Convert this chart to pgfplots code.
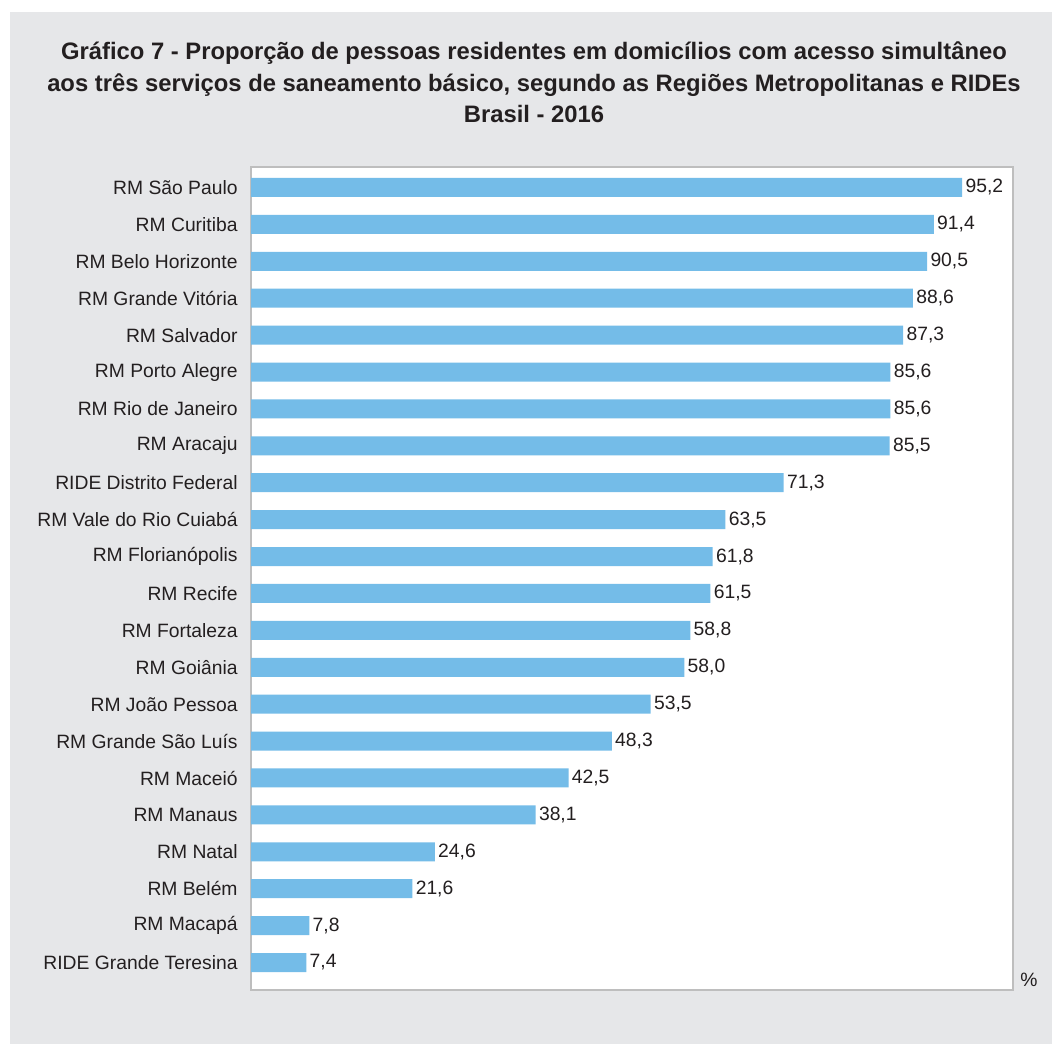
\documentclass[border=0pt]{standalone}
\usepackage{pgfplots}
\pgfplotsset{compat=1.18}
\usepackage{pgfplotstable}
\usepackage{fontspec}
\setmainfont{Liberation Sans}
\definecolor{panel}{HTML}{E6E7E9}
\definecolor{barblue}{HTML}{74BCE8}
\definecolor{frame}{HTML}{BEBEBE}
\definecolor{txt}{HTML}{231F20}
\pgfplotstableread[col sep=comma]{
y,v
0,95.2
1,91.4
2,90.5
3,88.6
4,87.3
5,85.6
6,85.6
7,85.5
8,71.3
9,63.5
10,61.8
11,61.5
12,58.8
13,58.0
14,53.5
15,48.3
16,42.5
17,38.1
18,24.6
19,21.6
20,7.8
21,7.4
}\datatable
\begin{document}
\begin{tikzpicture}
\fill[white] (0,0) rectangle (526.5pt,522.5pt);
\fill[panel] (5pt,0.5pt) rectangle (526pt,516.5pt);
\node[font=\fontsize{11.9}{14}\selectfont\bfseries, text=txt, align=center] at (267pt,495.8pt) {Gráfico 7 - Proporção de pessoas residentes em domicílios com acesso simultâneo};
\node[font=\fontsize{11.9}{14}\selectfont\bfseries, text=txt, align=center] at (267pt,479.8pt) {aos três serviços de saneamento básico, segundo as Regiões Metropolitanas e RIDEs};
\node[font=\fontsize{11.9}{14}\selectfont\bfseries, text=txt, align=center] at (267pt,465.3pt) {Brasil - 2016};
\begin{axis}[
  at={(125.5pt,27.5pt)}, anchor=south west,
  scale only axis, width=381pt, height=411.5pt,
  xbar, bar width=9.5pt,
  xmin=0, xmax=102,
  y dir=reverse, ymin=-0.555, ymax=21.745,
  axis background/.style={fill=white},
  axis line style={frame, line width=0.75pt},
  xtick=\empty,
  ytick={0,...,21},
  major tick length=0pt,
  yticklabels={RM São Paulo,RM Curitiba,RM Belo Horizonte,RM Grande Vitória,RM Salvador,RM Porto Alegre,RM Rio de Janeiro,RM Aracaju,RIDE Distrito Federal,RM Vale do Rio Cuiabá,RM Florianópolis,RM Recife,RM Fortaleza,RM Goiânia,RM João Pessoa,RM Grande São Luís,RM Maceió,RM Manaus,RM Natal,RM Belém,RM Macapá,RIDE Grande Teresina},
  yticklabel style={font=\fontsize{9.65}{11}\selectfont, text=txt, anchor=east, inner sep=0pt, xshift=-6.5pt},
  nodes near coords,
  nodes near coords style={font=\fontsize{9.65}{11}\selectfont, text=txt, anchor=west, inner sep=1.5pt,
    /pgf/number format/.cd, fixed, fixed zerofill, precision=1, use comma, assume math mode=true},
  clip=false,
]
\addplot[fill=barblue, draw=none] table[x=v, y=y] {\datatable};
\end{axis}
\node[font=\fontsize{9.65}{11}\selectfont, text=txt] at (514.5pt,32.5pt) {\%};
\end{tikzpicture}
\end{document}
